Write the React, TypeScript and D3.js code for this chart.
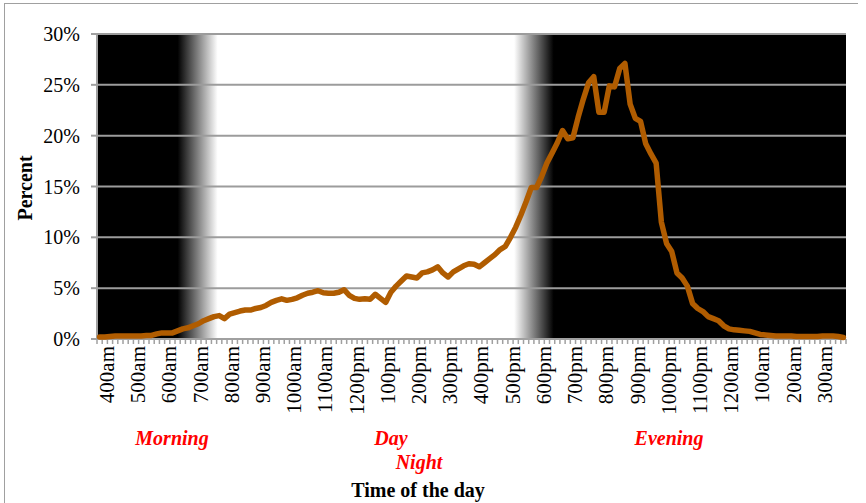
import React, { useRef, useEffect } from 'react';
import * as d3 from 'd3';

// share of activity (percent) per 10-minute slot, starting at 4:00am
const percentValues: number[] = [
  0.2, 0.2, 0.25, 0.3, 0.3, 0.3, 0.3, 0.3, 0.3, 0.35,
  0.35, 0.5, 0.6, 0.6, 0.6, 0.8, 1.0, 1.1, 1.3, 1.5,
  1.8, 2.0, 2.2, 2.3, 2.0, 2.45, 2.6, 2.75, 2.85, 2.85,
  3.0, 3.1, 3.3, 3.6, 3.8, 3.95, 3.8, 3.9, 4.05, 4.3,
  4.5, 4.6, 4.75, 4.55, 4.5, 4.5, 4.6, 4.85, 4.3, 4.0,
  3.9, 3.95, 3.9, 4.4, 4.0, 3.6, 4.6, 5.2, 5.7, 6.2,
  6.1, 6.0, 6.5, 6.6, 6.8, 7.1, 6.5, 6.1, 6.6, 6.9,
  7.2, 7.4, 7.35, 7.1, 7.5, 7.9, 8.3, 8.8, 9.1, 10.0,
  11.0, 12.2, 13.5, 14.9, 14.9, 16.0, 17.3, 18.3, 19.3, 20.5,
  19.7, 19.8, 21.8, 23.6, 25.2, 25.8, 22.3, 22.3, 24.9, 24.8,
  26.6, 27.1, 23.1, 21.7, 21.4, 19.2, 18.2, 17.3, 11.5, 9.4,
  8.6, 6.5, 6.0, 5.2, 3.5, 3.0, 2.7, 2.2, 2.0, 1.8,
  1.3, 1.0, 0.9, 0.85, 0.8, 0.75, 0.6, 0.45, 0.4, 0.35,
  0.3, 0.3, 0.3, 0.3, 0.25, 0.25, 0.25, 0.25, 0.25, 0.3,
  0.3, 0.3, 0.25, 0.15,
];

// one label every 6 slots (each hour)
const hourLabels: string[] = [
  '400am', '500am', '600am', '700am', '800am', '900am', '1000am', '1100am',
  '1200pm', '100pm', '200pm', '300pm', '400pm', '500pm', '600pm', '700pm',
  '800pm', '900pm', '1000pm', '1100pm', '1200am', '100am', '200am', '300am',
];

const yTicks: number[] = [0, 5, 10, 15, 20, 25, 30];

// background shading: slot positions where dark fades into light and back
const shadeStops: { slot: number; shade: string }[] = [
  { slot: 15.5, shade: '#000' },
  { slot: 23.2, shade: '#fff' },
  { slot: 80.2, shade: '#fff' },
  { slot: 87.8, shade: '#000' },
];

const periodLabels: { text: string; x: number; y: number }[] = [
  { text: 'Morning', x: 172, y: 438 },
  { text: 'Day', x: 391, y: 438 },
  { text: 'Night', x: 419, y: 462 },
  { text: 'Evening', x: 669, y: 438 },
];

const WIDTH = 866;
const HEIGHT = 503;
const FONT = '"Liberation Serif", "Times New Roman", serif';

const DayChart: React.FC = () => {
  const ref = useRef<SVGSVGElement | null>(null);

  useEffect(() => {
    if (!ref.current) return;
    const svg = d3.select(ref.current);
    svg.selectAll('*').remove();

    const left = 97, right = 846, top = 34, bottom = 339;
    const slots = d3.range(percentValues.length);

    const x = d3.scaleBand<number>().domain(slots).range([left, right]).padding(0);
    const y = d3.scaleLinear().domain([0, 30]).range([bottom, top]);
    const slotX = (s: number) => left + s * x.step();

    // outer frame (left and top edges)
    svg.append('line').attr('x1', 4.5).attr('x2', 4.5).attr('y1', 3).attr('y2', HEIGHT)
      .attr('stroke', '#a0a0a0').attr('stroke-width', 1);
    svg.append('line').attr('x1', 4).attr('x2', 858).attr('y1', 3.5).attr('y2', 3.5)
      .attr('stroke', '#a0a0a0').attr('stroke-width', 1);

    // shaded background
    const grad = svg.append('defs').append('linearGradient')
      .attr('id', 'dayShade')
      .attr('gradientUnits', 'userSpaceOnUse')
      .attr('x1', left).attr('x2', right).attr('y1', 0).attr('y2', 0);
    shadeStops.forEach(s => {
      grad.append('stop')
        .attr('offset', (slotX(s.slot) - left) / (right - left))
        .attr('stop-color', s.shade);
    });
    svg.append('rect')
      .attr('x', left).attr('y', top)
      .attr('width', right - left).attr('height', bottom - top)
      .attr('fill', 'url(#dayShade)');

    // gridlines
    svg.append('g').selectAll('line')
      .data(yTicks.filter(t => t > 0))
      .enter().append('line')
      .attr('x1', left).attr('x2', right)
      .attr('y1', d => y(d)).attr('y2', d => y(d))
      .attr('stroke', '#9c9c9c').attr('stroke-width', 2);

    // y axis
    const yAxis = svg.append('g');
    yAxis.append('line').attr('x1', left).attr('x2', left).attr('y1', top).attr('y2', bottom)
      .attr('stroke', '#a0a0a0').attr('stroke-width', 2);
    yAxis.selectAll('line.tick')
      .data(yTicks).enter().append('line')
      .attr('class', 'tick')
      .attr('x1', left - 6).attr('x2', left)
      .attr('y1', d => y(d)).attr('y2', d => y(d))
      .attr('stroke', '#a0a0a0').attr('stroke-width', 2);
    yAxis.selectAll('text')
      .data(yTicks).enter().append('text')
      .attr('x', 80).attr('y', d => y(d))
      .attr('dy', '0.35em')
      .attr('text-anchor', 'end')
      .attr('font-family', FONT).attr('font-size', 20)
      .text(d => `${d}%`);

    // x axis
    const xAxis = svg.append('g');
    xAxis.append('line').attr('x1', left).attr('x2', right).attr('y1', bottom).attr('y2', bottom)
      .attr('stroke', '#a0a0a0').attr('stroke-width', 2);
    xAxis.selectAll('line.tick')
      .data(d3.range(percentValues.length + 1)).enter().append('line')
      .attr('class', 'tick')
      .attr('x1', d => slotX(d)).attr('x2', d => slotX(d))
      .attr('y1', bottom).attr('y2', bottom + 5)
      .attr('stroke', '#a0a0a0').attr('stroke-width', 1.5);
    xAxis.selectAll('text')
      .data(hourLabels).enter().append('text')
      .attr('transform', (_, i) => `translate(${(x(i * 6) ?? 0) + x.bandwidth() / 2 + 7},346) rotate(-90)`)
      .attr('dy', '0.35em')
      .attr('text-anchor', 'end')
      .attr('font-family', FONT).attr('font-size', 21)
      .text(d => d);

    // the series line
    const line = d3.line<number>()
      .x((_, i) => (x(i) ?? 0) + x.bandwidth() / 2)
      .y(d => y(d));
    svg.append('path')
      .datum(percentValues)
      .attr('d', line)
      .attr('fill', 'none')
      .attr('stroke', '#b05c00')
      .attr('stroke-width', 5.5)
      .attr('stroke-linejoin', 'round')
      .attr('stroke-linecap', 'round');

    // axis titles
    svg.append('text')
      .attr('transform', 'translate(25,188) rotate(-90)')
      .attr('dy', '0.35em')
      .attr('text-anchor', 'middle')
      .attr('font-family', FONT).attr('font-size', 20).attr('font-weight', 'bold')
      .text('Percent');
    svg.append('text')
      .attr('x', 418).attr('y', 490)
      .attr('dy', '0.35em')
      .attr('text-anchor', 'middle')
      .attr('font-family', FONT).attr('font-size', 20).attr('font-weight', 'bold')
      .text('Time of the day');

    // period labels
    svg.append('g').selectAll('text')
      .data(periodLabels).enter().append('text')
      .attr('x', d => d.x).attr('y', d => d.y)
      .attr('dy', '0.35em')
      .attr('text-anchor', 'middle')
      .attr('font-family', FONT).attr('font-size', 20)
      .attr('font-weight', 'bold').attr('font-style', 'italic')
      .attr('fill', '#ff0000')
      .text(d => d.text);
  }, []);

  return <svg ref={ref} width={WIDTH} height={HEIGHT} style={{ display: 'block' }} />;
};

export default function App() {
  return (
    <div style={{ position: 'absolute', left: 0, top: 0, background: '#fff' }}>
      <DayChart />
    </div>
  );
}
